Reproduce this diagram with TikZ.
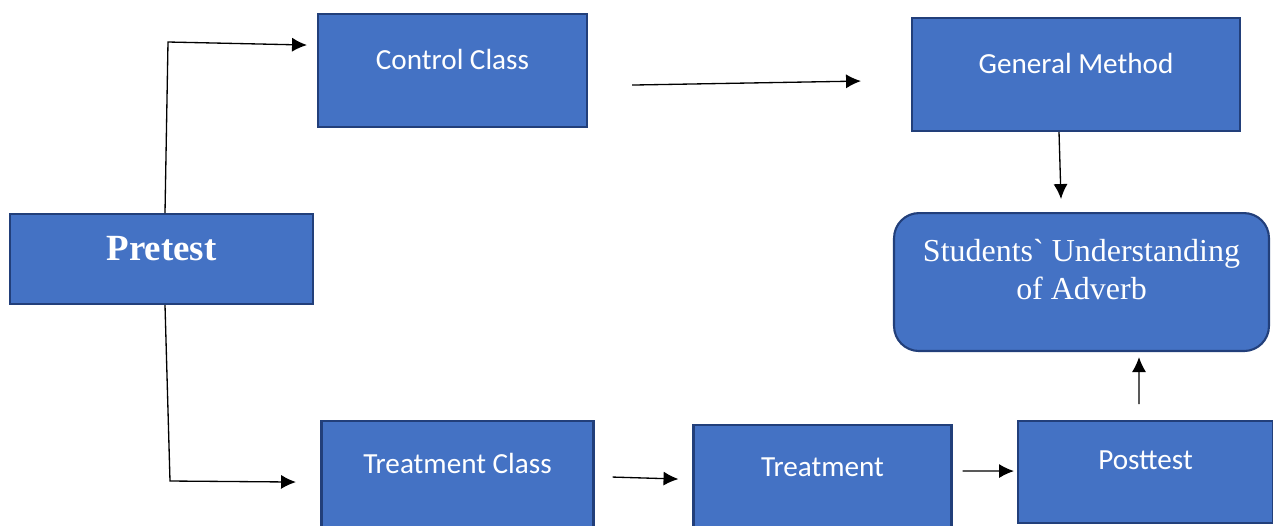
\documentclass[tikz,border=0pt]{standalone}
\usepackage{fontspec}
\newfontfamily\calibri{Carlito}
\newfontfamily\timesfont[Ligatures=TeXOff]{Liberation Serif}
\usepackage{tikz}
\usetikzlibrary{shapes, arrows.meta, positioning}
\definecolor{boxfill}{HTML}{4472C4}
\definecolor{boxline}{HTML}{223F7A}
\tikzstyle{block} = [draw=boxline, fill=boxfill, rectangle, line width=1.2pt, text=white, inner ysep=0pt, anchor=north, font=\calibri\fontsize{16.6}{20}\selectfont]
\tikzstyle{link} = [line width=0.75pt, -{Latex[length=8.5pt,width=8pt]}]

\begin{document}
\begin{tikzpicture}[x=0.02cm,y=-0.02cm]
  \useasboundingbox (0,0) rectangle (1273,525);
  \clip (0,0) rectangle (1273,525);

  \node[block, minimum width=6.06cm, text height=0.92cm, text depth=0.88cm, font=\timesfont\bfseries\fontsize{21}{25}\selectfont] (Pretest) at (161.5,213) {Pretest};
  \node[block, minimum width=5.38cm, text height=1.10cm, text depth=1.16cm] (Control) at (452.5,13) {Control Class};
  \node[block, minimum width=6.56cm, text height=1.10cm, text depth=1.16cm] (General) at (1076,17) {General Method};
  \node[block, rounded corners=0.5cm, minimum width=7.5cm, align=center, text height=1.72cm, text depth=1.04cm, font=\timesfont\fontsize{18.2}{21.5}\selectfont] (Understanding) at (1081.5,212) {Students` Understanding\\of Adverb};
  \node[block, minimum width=5.44cm, text height=1.04cm, text depth=1.36cm] (TClass) at (457.5,420) {Treatment Class};
  \node[block, minimum width=5.16cm, text height=1.02cm, text depth=1.30cm] (Treatment) at (822.5,424) {Treatment};
  \node[block, minimum width=5.1cm, text height=0.96cm, text depth=1.08cm] (Posttest) at (1145.5,420) {Posttest};

  \coordinate (UpBend) at (168,42);
  \coordinate (LowBend) at (170,481);

  \draw[link] ([xshift=0.07cm]Pretest.north) -- (UpBend) -- ([xshift=-0.2cm,yshift=0.51cm]Control.west);
  \draw[link] ([xshift=0.07cm]Pretest.south) -- (LowBend) -- ([xshift=-0.49cm,yshift=-0.02cm]TClass.west);
  \draw[link] ([xshift=0.88cm,yshift=-0.29cm]Control.east) -- ([xshift=-1cm,yshift=-0.13cm]General.west);
  \draw[link] ([xshift=-0.34cm]General.south) -- ([xshift=-0.41cm,yshift=0.26cm]Understanding.north);
  \draw[link] ([xshift=-0.13cm,yshift=0.32cm]Posttest.north) -- ([xshift=1.15cm,yshift=-0.1cm]Understanding.south);
  \draw[link] ([xshift=0.36cm,yshift=0.08cm]TClass.east) -- ([xshift=-0.28cm,yshift=0.08cm]Treatment.west);
  \draw[link] ([xshift=0.2cm,yshift=0.24cm]Treatment.east) -- ([xshift=-0.06cm,yshift=0.02cm]Posttest.west);
\end{tikzpicture}
\end{document}
